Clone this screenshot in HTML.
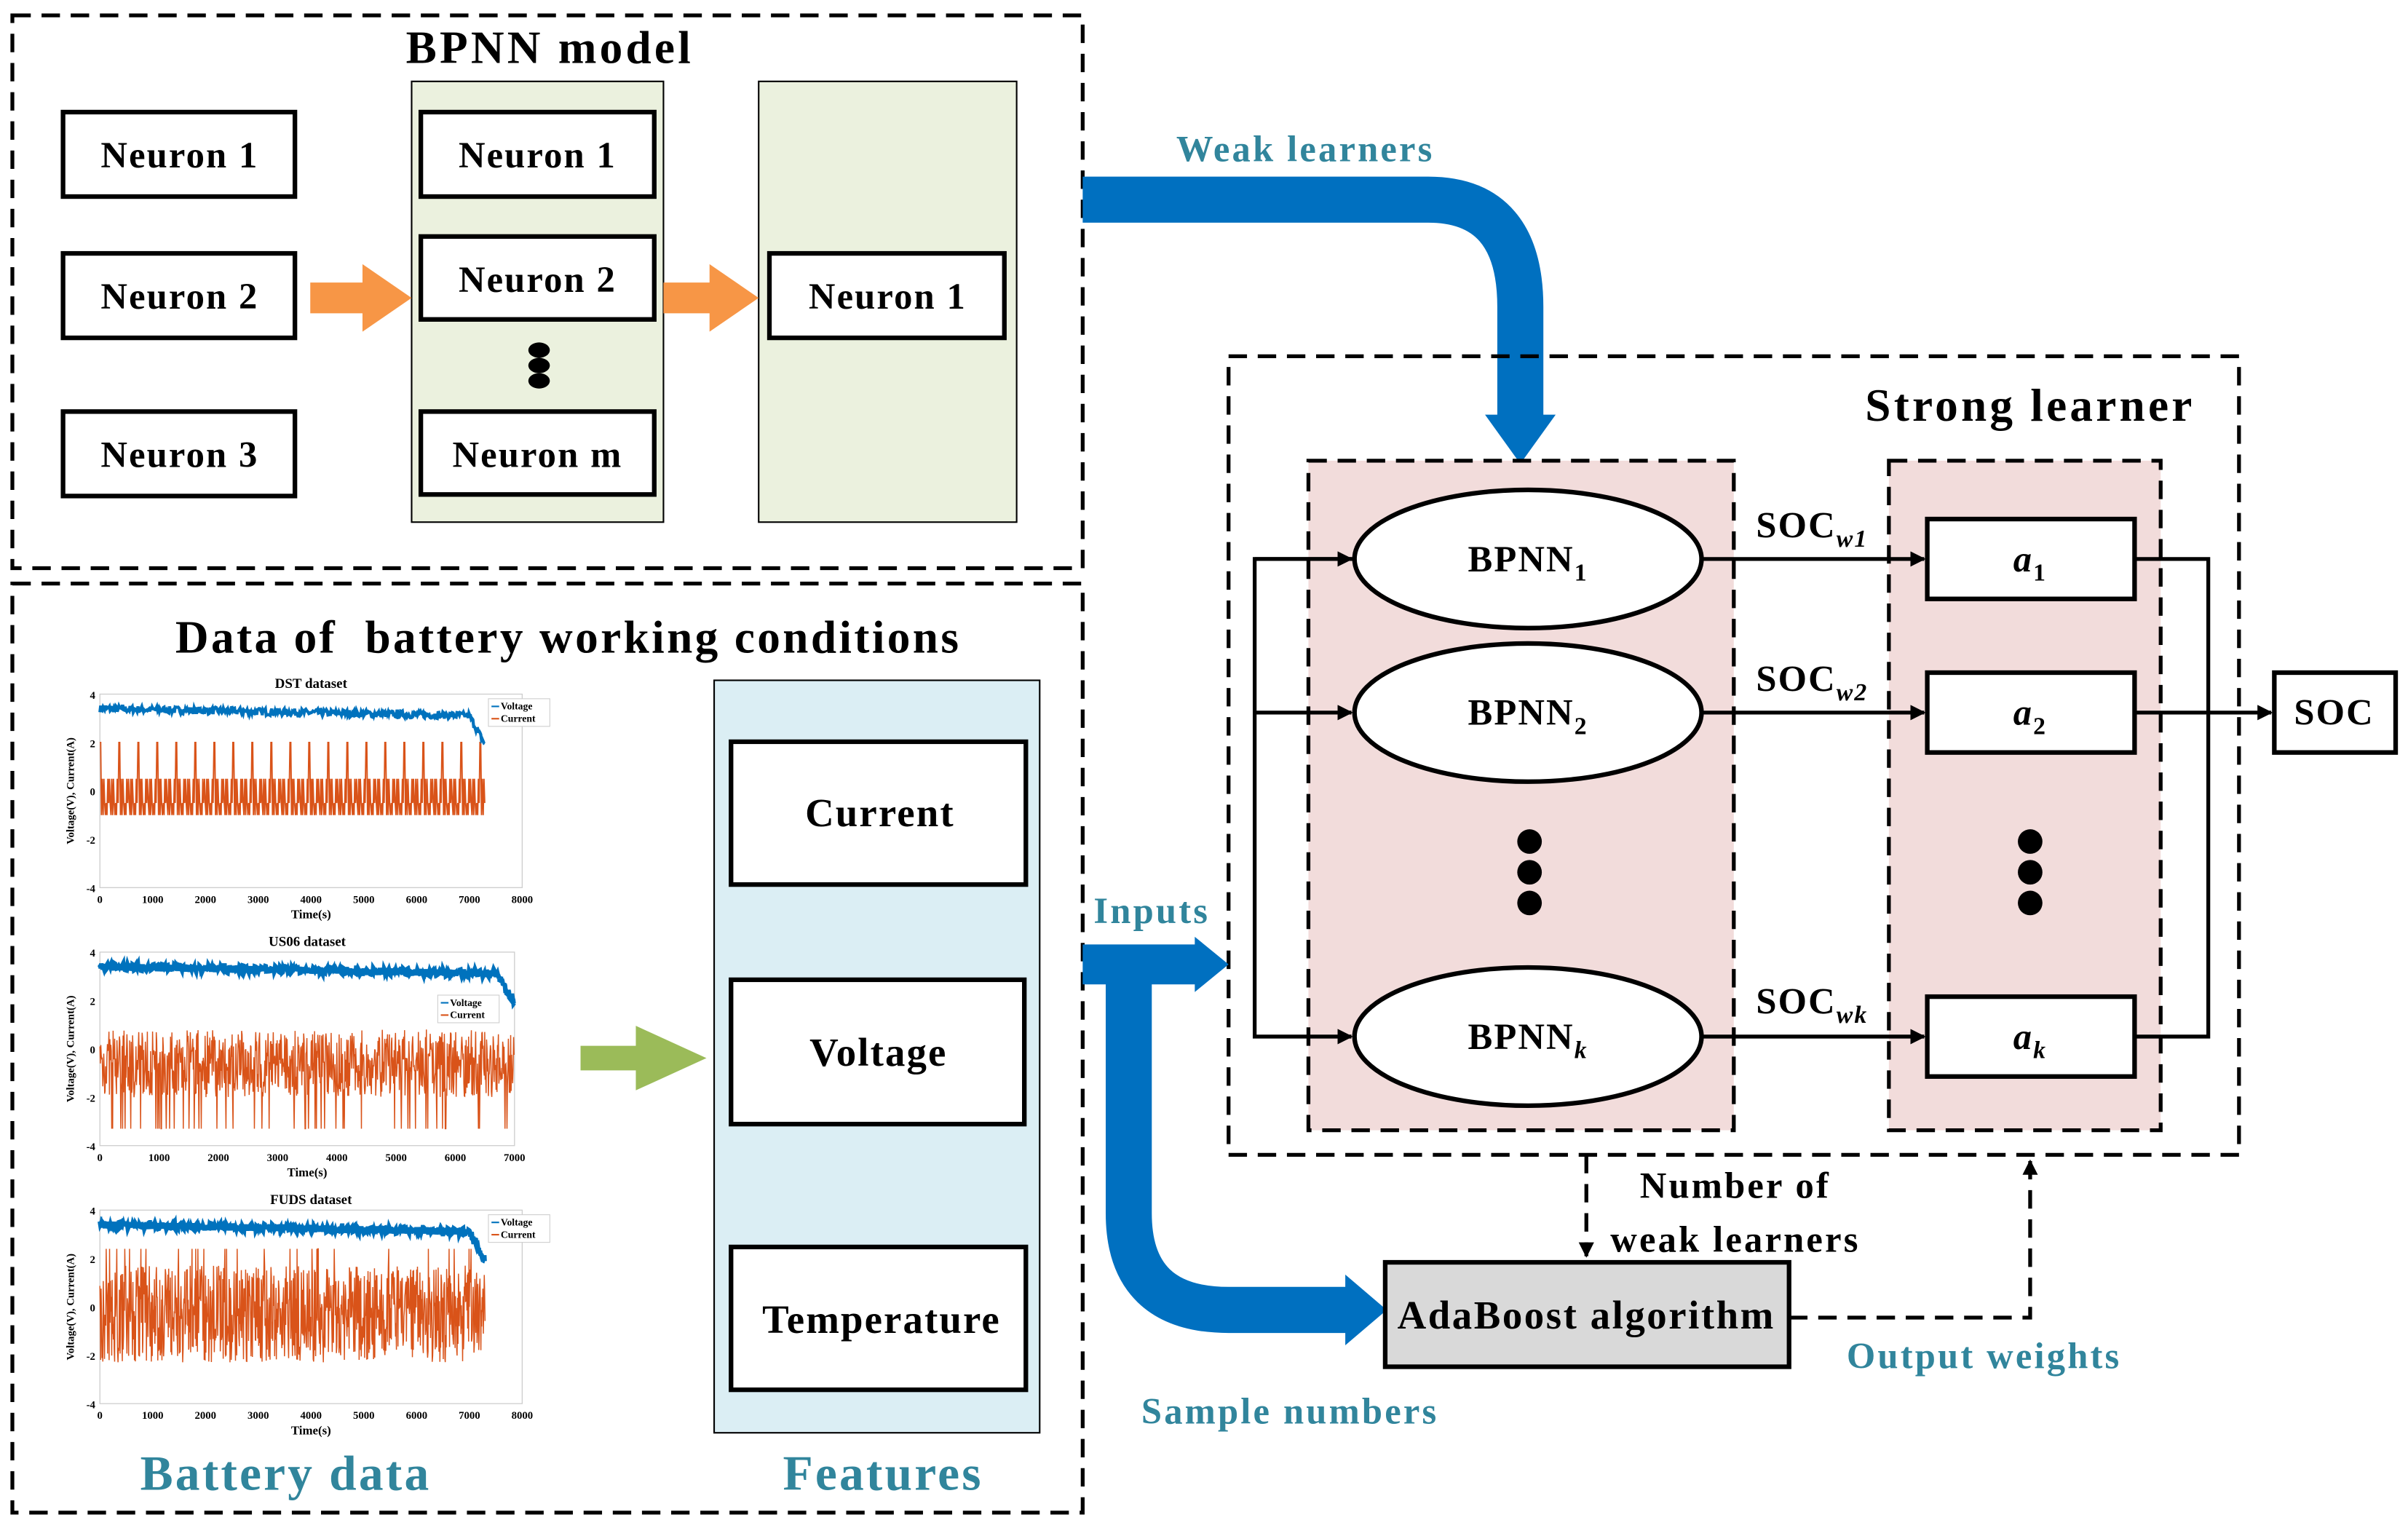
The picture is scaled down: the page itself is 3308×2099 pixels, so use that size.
<!DOCTYPE html>
<html><head><meta charset="utf-8"><style>
html,body{margin:0;padding:0;background:#fff}
svg{display:block}
text{font-family:"Liberation Serif",serif;font-weight:bold;letter-spacing:1px}
</style></head><body>
<svg id="s" width="3308" height="2099" viewBox="0 0 1568 995" xmlns="http://www.w3.org/2000/svg">
<defs>
<marker id="ah" markerWidth="10" markerHeight="10" refX="9" refY="5" orient="auto" markerUnits="userSpaceOnUse"><path d="M0,0 L10,5 L0,10 z" fill="#000"/></marker>
</defs>
<rect width="1568" height="995" fill="#fff"/>
<rect x="8" y="10" width="697" height="360" fill="none" stroke="#000" stroke-width="2.5" stroke-dasharray="12,7"/>
<text x="358" y="41" font-size="30" text-anchor="middle" style="letter-spacing:2px">BPNN model</text>
<g fill="#fff" stroke="#000" stroke-width="3">
<rect x="41" y="73" width="151" height="55"/><rect x="41" y="165" width="151" height="55"/><rect x="41" y="268" width="151" height="55"/>
</g>
<rect x="268" y="53" width="164" height="287" fill="#ebf1de" stroke="#000" stroke-width="1"/>
<rect x="494" y="53" width="168" height="287" fill="#ebf1de" stroke="#000" stroke-width="1"/>
<g fill="#fff" stroke="#000" stroke-width="3">
<rect x="274" y="73" width="152" height="55"/><rect x="274" y="154" width="152" height="54"/><rect x="274" y="268" width="152" height="54"/>
<rect x="501" y="165" width="153" height="55"/>
</g>
<g font-size="24" text-anchor="middle" style="letter-spacing:1.5px">
<text x="117" y="109">Neuron 1</text><text x="117" y="201">Neuron 2</text><text x="117" y="304">Neuron 3</text>
<text x="350" y="109">Neuron 1</text><text x="350" y="190">Neuron 2</text><text x="350" y="304">Neuron m</text>
<text x="578" y="201">Neuron 1</text>
</g>
<ellipse cx="351" cy="228" rx="7" ry="5"/><ellipse cx="351" cy="238" rx="7" ry="5"/><ellipse cx="351" cy="248" rx="7" ry="5"/>
<g fill="#f79646">
<path d="M202,184 H236 V172 L268,194 L236,216 V204 H202 z"/>
<path d="M432,184 H462 V172 L494,194 L462,216 V204 H432 z"/>
</g>
<rect x="8" y="380" width="697" height="605" fill="none" stroke="#000" stroke-width="2.5" stroke-dasharray="12,7"/>
<text x="370" y="425" font-size="30" text-anchor="middle" style="letter-spacing:1.6px">Data of&#160; battery working conditions</text>
<g id="plots"></g>
<rect x="465" y="443" width="212" height="490" fill="#dbeef4" stroke="#000" stroke-width="1"/>
<g fill="#fff" stroke="#000" stroke-width="3">
<rect x="476" y="483" width="192" height="93"/><rect x="476" y="638" width="191" height="94"/><rect x="476" y="812" width="192" height="93"/>
</g>
<g font-size="26" text-anchor="middle" style="letter-spacing:1.5px">
<text x="573" y="538">Current</text><text x="572" y="694">Voltage</text><text x="574" y="868">Temperature</text>
</g>
<path d="M378,681 H414 V668 L460,689 L414,710 V697 H378 z" fill="#9bbb59"/>
<text x="186" y="970" font-size="32" fill="#31859c" text-anchor="middle" style="letter-spacing:1.5px">Battery data</text>
<text x="575" y="970" font-size="32" fill="#31859c" text-anchor="middle" style="letter-spacing:1.5px">Features</text>
<text x="850" y="105" font-size="24" fill="#31859c" text-anchor="middle" style="letter-spacing:1.5px">Weak learners</text>
<path d="M705,130 H930 Q990,130 990,200 V272" fill="none" stroke="#0070c0" stroke-width="30"/>
<path d="M967,270 H1013 L990,302 z" fill="#0070c0"/>
<rect x="800" y="232" width="658" height="520" fill="none" stroke="#000" stroke-width="2.5" stroke-dasharray="12,7"/>
<text x="1322" y="274" font-size="30" text-anchor="middle" style="letter-spacing:2px">Strong learner</text>
<rect x="852" y="300" width="277" height="436" fill="#f2dcdb" stroke="#000" stroke-width="2.5" stroke-dasharray="12,7"/>
<rect x="1230" y="300" width="177" height="436" fill="#f2dcdb" stroke="#000" stroke-width="2.5" stroke-dasharray="12,7"/>
<g fill="#fff" stroke="#000" stroke-width="3">
<ellipse cx="995" cy="364" rx="113" ry="45"/><ellipse cx="995" cy="464" rx="113" ry="45"/><ellipse cx="995" cy="675" rx="113" ry="45"/>
<rect x="1255" y="338" width="135" height="52"/><rect x="1255" y="438" width="135" height="52"/><rect x="1255" y="649" width="135" height="52"/>
<rect x="1481" y="438" width="79" height="52"/>
</g>
<g font-size="24" text-anchor="middle">
<text x="995" y="372">BPNN<tspan font-size="16" dy="6">1</tspan></text>
<text x="995" y="472">BPNN<tspan font-size="16" dy="6">2</tspan></text>
<text x="995" y="683">BPNN<tspan font-size="16" dy="6" font-style="italic">k</tspan></text>
<text x="1322" y="372" font-style="italic">a<tspan font-size="16" dy="6" font-style="normal">1</tspan></text>
<text x="1322" y="472" font-style="italic">a<tspan font-size="16" dy="6" font-style="normal">2</tspan></text>
<text x="1322" y="683" font-style="italic">a<tspan font-size="16" dy="6">k</tspan></text>
<text x="1520" y="472">SOC</text>
<text x="1180" y="350">SOC<tspan font-size="16" dy="6" font-style="italic">w1</tspan></text>
<text x="1180" y="450">SOC<tspan font-size="16" dy="6" font-style="italic">w2</tspan></text>
<text x="1180" y="660">SOC<tspan font-size="16" dy="6" font-style="italic">wk</tspan></text>
</g>
<g fill="#000">
<circle cx="996" cy="548" r="8"/><circle cx="996" cy="568" r="8"/><circle cx="996" cy="588" r="8"/>
<circle cx="1322" cy="548" r="8"/><circle cx="1322" cy="568" r="8"/><circle cx="1322" cy="588" r="8"/>
</g>
<g stroke="#000" stroke-width="2.5" fill="none">
<path d="M882,364 H817 V675 H880" marker-end="url(#ah)"/>
<path d="M817,364 H880" marker-end="url(#ah)"/>
<path d="M817,464 H880" marker-end="url(#ah)"/>
<path d="M1108,364 H1253" marker-end="url(#ah)"/>
<path d="M1108,464 H1253" marker-end="url(#ah)"/>
<path d="M1108,675 H1253" marker-end="url(#ah)"/>
<path d="M1390,364 H1438 V675 H1390"/>
<path d="M1390,464 H1479" marker-end="url(#ah)"/>
<path d="M1033,752 V818" stroke-dasharray="12,7" marker-end="url(#ah)"/>
<path d="M1165,858 H1322 V756" stroke-dasharray="12,7" marker-end="url(#ah)"/>
</g>
<text x="750" y="601" font-size="24" fill="#31859c" text-anchor="middle" style="letter-spacing:1.5px">Inputs</text>
<path d="M705,628 H780" stroke="#0070c0" stroke-width="26" fill="none"/>
<path d="M778,610 L800,628 L778,646 z" fill="#0070c0"/>
<path d="M735,628 V790 Q735,853 800,853 H878" stroke="#0070c0" stroke-width="30" fill="none"/>
<path d="M876,830 L903,853 L876,876 z" fill="#0070c0"/>
<rect x="902" y="822" width="263" height="68" fill="#d9d9d9" stroke="#000" stroke-width="3"/>
<text x="1033" y="865" font-size="26" text-anchor="middle" style="letter-spacing:1.2px">AdaBoost algorithm</text>
<text x="1130" y="780" font-size="24" text-anchor="middle" style="letter-spacing:1.5px">Number of</text>
<text x="1130" y="815" font-size="24" text-anchor="middle" style="letter-spacing:1.5px">weak learners</text>
<text x="1292" y="891" font-size="24" fill="#31859c" text-anchor="middle" style="letter-spacing:1.5px">Output weights</text>
<text x="840" y="927" font-size="24" fill="#31859c" text-anchor="middle" style="letter-spacing:1.5px">Sample numbers</text>
</svg>
<script>
(function(){
var g=document.getElementById('plots'),NS='http://www.w3.org/2000/svg',seed=7;
function r(){seed=(seed*16807)%2147483647;return seed/2147483647;}
function el(t,a,txt){var e=document.createElementNS(NS,t);for(var k in a)e.setAttribute(k,a[k]);if(txt)e.textContent=txt;g.appendChild(e);return e;}
var P=[{y:452,t:'DST dataset',x2:340,end:7300,type:0},{y:620,t:'US06 dataset',x2:335,end:7000,type:1},{y:788,t:'FUDS dataset',x2:340,end:7300,type:2}];
P.forEach(function(p){
 var x0=65,x1=p.x2,y0=p.y,h=126,w=x1-x0;
 el('rect',{x:x0,y:y0,width:w,height:h,fill:'#fff',stroke:'#ccc','stroke-width':0.6});
 el('text',{x:(x0+x1)/2,y:y0-4,'font-size':9,'text-anchor':'middle',style:'letter-spacing:0'},p.t);
 function Y(v){return y0+h*(4-v)/8;}
 var xmax=p.type==1?7000:8000;function X(t){return x0+w*t/xmax;}
 [4,2,0,-2,-4].forEach(function(v){el('text',{x:x0-3,y:Y(v)+3,'font-size':7,'text-anchor':'end',style:'letter-spacing:0'},String(v));});
 for(var t=0;t<=xmax;t+=1000)el('text',{x:X(t),y:y0+h+10,'font-size':7,'text-anchor':'middle',style:'letter-spacing:0'},String(t));
 el('text',{x:(x0+x1)/2,y:y0+h+20,'font-size':8,'text-anchor':'middle',style:'letter-spacing:0'},'Time(s)');
 el('text',{x:0,y:0,'font-size':7,'text-anchor':'middle',style:'letter-spacing:0',transform:'translate('+(x0-17)+','+(y0+h/2)+') rotate(-90)'},'Voltage(V), Current(A)');
 var cur='',vol='';
 var step=p.type==0?15:8;
 for(var t=0;t<p.end;t+=step){
  var c;
  if(p.type==0){var ph=t%360;c=ph<20?2:ph<30?-3.8:(Math.floor(ph/12)%3==0?0.5:Math.floor(ph/12)%3==1?-0.5:-1);}
  else if(p.type==1){c=-0.6+(r()-0.5)*2.8;if(r()<0.05)c=-3.3;}
  else{c=-0.3+(r()-0.5)*4;if(r()<0.04)c=2.4;}
  cur+=X(t).toFixed(1)+','+Y(c).toFixed(1)+' ';
  var v=3.4-0.3*t/p.end+(r()-0.5)*0.3;if(t>p.end-300)v-=(t-(p.end-300))/300*1.2;
  vol+=X(t).toFixed(1)+','+Y(v).toFixed(1)+' ';
 }
 el('polyline',{points:cur,fill:'none',stroke:'#d95319','stroke-width':p.type==0?0.9:0.7});
 el('polyline',{points:vol,fill:'none',stroke:'#0072bd','stroke-width':p.type==0?2:3});
 var ly=p.type==1?y0+28:y0+3;var lx=p.type==1?x1-50:x1-22;
 el('rect',{x:lx,y:ly,width:40,height:18,fill:'#fff',stroke:'#ccc','stroke-width':0.5});
 el('text',{x:lx+8,y:ly+7,'font-size':6.5,fill:'#000',style:'letter-spacing:0'},'Voltage');
 el('text',{x:lx+8,y:ly+15,'font-size':6.5,fill:'#000',style:'letter-spacing:0'},'Current');
 el('line',{x1:lx+2,y1:ly+5,x2:lx+7,y2:ly+5,stroke:'#0072bd'});
 el('line',{x1:lx+2,y1:ly+13,x2:lx+7,y2:ly+13,stroke:'#d95319'});
});
})();
</script>
</body></html>
